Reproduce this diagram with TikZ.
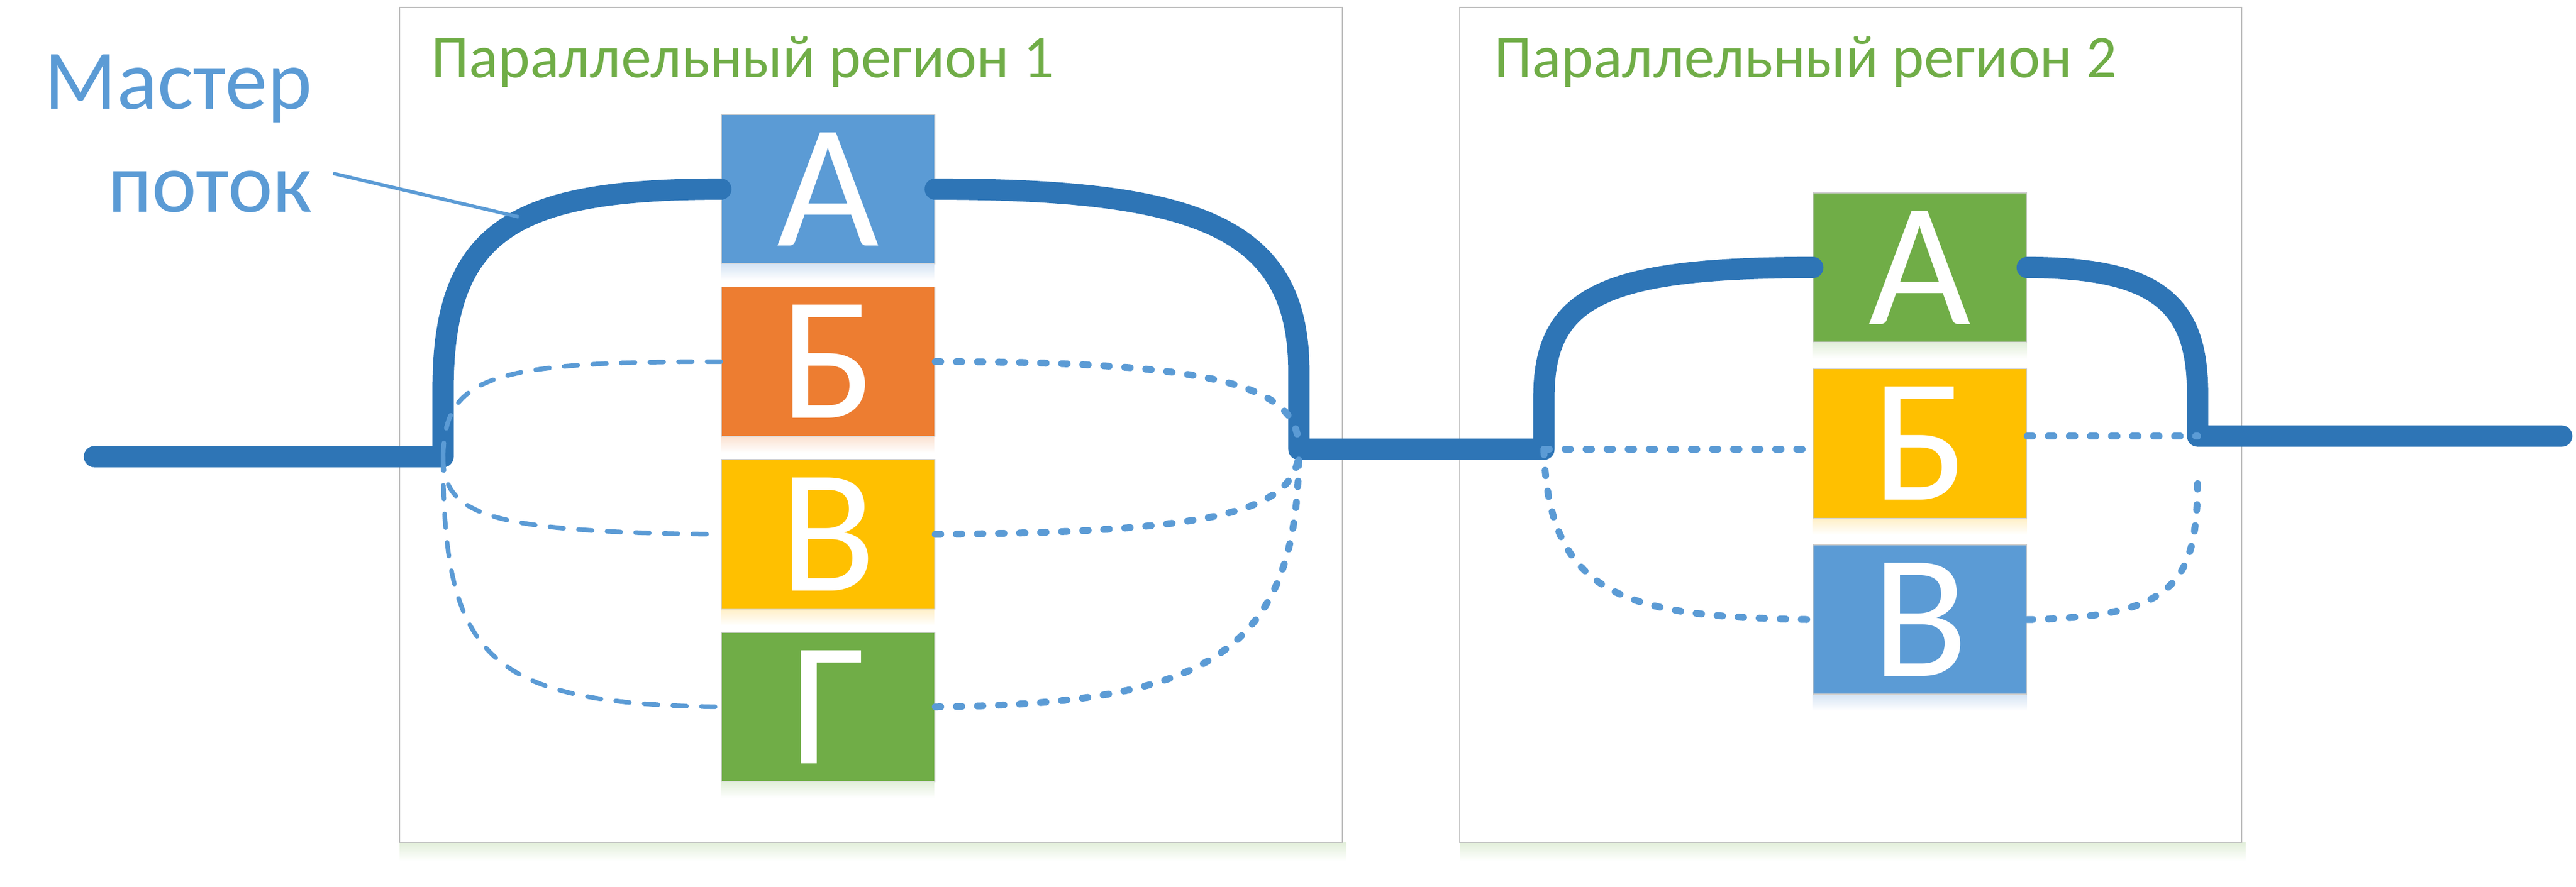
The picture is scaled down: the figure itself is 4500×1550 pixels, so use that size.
\documentclass[tikz,border=0pt]{standalone}
\usepackage{fontspec}
\setmainfont{Carlito}
\usetikzlibrary{positioning}

\begin{document}
\begin{tikzpicture}[x=0.25pt,y=0.25pt,yscale=-1,xscale=1,
	frame/.style={draw={rgb, 255:red, 191; green, 191; blue, 191 },line width=0.6pt,fill=white},
	task/.style={minimum width=93.25pt,minimum height=65.25pt,inner sep=0pt,draw={rgb, 255:red, 205; green, 205; blue, 205 },line width=0.4pt,text=white,font=\fontsize{77}{84}\selectfont},
	title/.style={text={rgb, 255:red, 112; green, 173; blue, 71 },font=\fontsize{26.5}{30}\selectfont,inner sep=0pt},
	note/.style={text={rgb, 255:red, 91; green, 155; blue, 213 },font=\fontsize{37}{44}\selectfont,inner sep=0pt},
	master/.style={draw={rgb, 255:red, 46; green, 117; blue, 182 },line width=9.3pt,line cap=round,line join=round},
	spawn/.style={draw={rgb, 255:red, 91; green, 155; blue, 213 },line width=2pt,line cap=round,dash pattern=on 6pt off 6.5pt},
	sync/.style={draw={rgb, 255:red, 91; green, 155; blue, 213 },line width=3pt,line cap=round,dash pattern=on 2.4pt off 6.8pt}]
	\useasboundingbox (0,0) rectangle (4500,1550);
	
	%Shape: Rectangle [region 1]
	\shade [top color={rgb, 255:red, 226; green, 239; blue, 218 },bottom color=white] (698,1472) rectangle (2352,1505) ;
	\draw [frame] (698,13) rectangle (2345,1472) ;
	%Shape: Rectangle [region 2]
	\shade [top color={rgb, 255:red, 226; green, 239; blue, 218 },bottom color=white] (2550,1472) rectangle (3923,1505) ;
	\draw [frame] (2550,13) rectangle (3916,1472) ;
	
	%Text Node
	\node [title,anchor=base west] (title1) at (753,136) {Параллельный регион 1};
	\node [title,anchor=base west] (title2) at (2610,136) {Параллельный регион 2};
	\node [note,anchor=base east] (mastertop) at (546,191) {Мастер};
	\node [note,anchor=base east] (masterbot) at (546,371) {поток};
	
	%Shape: Rectangle [tasks of region 1]
	\node [task,fill={rgb, 255:red, 91; green, 155; blue, 213 }] (A1) at (1446.5,330.5) {А};
	\node [task,fill={rgb, 255:red, 237; green, 125; blue, 49 },below=9.75pt of A1] (B1) {Б};
	\node [task,fill={rgb, 255:red, 255; green, 192; blue, 0 },below=9.75pt of B1] (V1) {В};
	\node [task,fill={rgb, 255:red, 112; green, 173; blue, 71 },below=9.75pt of V1] (G1) {Г};
	%Shape: Rectangle [tasks of region 2]
	\node [task,fill={rgb, 255:red, 112; green, 173; blue, 71 }] (A2) at (3354,467.5) {А};
	\node [task,fill={rgb, 255:red, 255; green, 192; blue, 0 },below=11.25pt of A2] (B2) {Б};
	\node [task,fill={rgb, 255:red, 91; green, 155; blue, 213 },below=11.25pt of B2] (V2) {В};
	
	%Shape: Shadows
	\shade [top color={rgb, 255:red, 214; green, 228; blue, 244 },bottom color=white] (A1.south west) rectangle +(373,28) ;
	\shade [top color={rgb, 255:red, 251; green, 226; blue, 210 },bottom color=white] (B1.south west) rectangle +(373,28) ;
	\shade [top color={rgb, 255:red, 255; green, 240; blue, 200 },bottom color=white] (V1.south west) rectangle +(373,28) ;
	\shade [top color={rgb, 255:red, 226; green, 239; blue, 218 },bottom color=white] (G1.south west) rectangle +(373,28) ;
	\shade [top color={rgb, 255:red, 226; green, 239; blue, 218 },bottom color=white] (A2.south west) rectangle +(374,28) ;
	\shade [top color={rgb, 255:red, 255; green, 240; blue, 200 },bottom color=white] (B2.south west) rectangle +(374,28) ;
	\shade [top color={rgb, 255:red, 214; green, 228; blue, 244 },bottom color=white] (V2.south west) rectangle +(374,28) ;
	
	\coordinate (start) at (165,798);
	\coordinate (fork1) at (774,798);
	\coordinate (join1) at (2269,785);
	\coordinate (fork2) at (2697,785);
	\coordinate (join2) at (3839,762);
	\coordinate (end) at (4475,762);
	\coordinate (v2end) at (3839,835);
	\coordinate (tip) at (582,303);
	\coordinate (hook) at (906,379);
	
	%Curve Lines [master thread]
	\draw [master] (start) -- (fork1) -- (774,680) .. controls (774,400) and (900,330.5) .. (A1.west) ;
	\draw [master] (A1.east) .. controls (2100,330.5) and (2269,400) .. (2269,650) -- (join1) -- (fork2) -- (2697,695) .. controls (2697,520) and (2797,467.5) .. (A2.west) ;
	\draw [master] (A2.east) .. controls (3781,467.5) and (3839,540) .. (3839,690) -- (join2) -- (end) ;
	
	%Curve Lines [region 1, fork]
	\draw [spawn] (fork1) .. controls (777,660) and (850,631) .. (B1.west) ;
	\draw [spawn] (fork1) .. controls (774,900) and (850,930) .. (V1.west) ;
	\draw [spawn] (fork1) .. controls (774,1150) and (850,1230) .. (G1.west) ;
	%Curve Lines [region 1, join]
	\draw [sync] (B1.east) .. controls (2150,631) and (2269,680) .. (join1) ;
	\draw [sync] (V1.east) .. controls (2100,930) and (2269,900) .. (join1) ;
	\draw [sync] (G1.east) .. controls (2100,1230) and (2269,1150) .. (join1) ;
	%Curve Lines [region 2]
	\draw [sync] (fork2) -- (B2.west |- fork2) ;
	\draw [sync] (B2.east |- join2) -- (join2) ;
	\draw [sync] (fork2) .. controls (2705,1050) and (2850,1078) .. (V2.west) ;
	\draw [sync] (V2.east) .. controls (3800,1078) and (3839,1020) .. (v2end) ;
	
	%Straight Lines [label pointer]
	\draw [draw={rgb, 255:red, 91; green, 155; blue, 213 },line width=1.5pt] (tip) -- (hook) ;
	
\end{tikzpicture}
\end{document}
